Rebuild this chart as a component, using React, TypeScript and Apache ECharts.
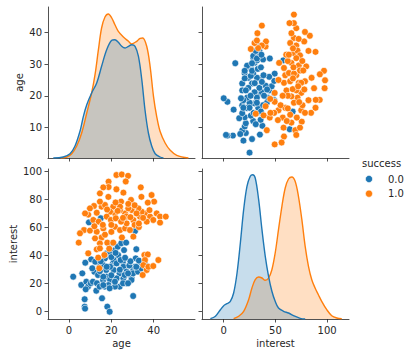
import React, { useEffect, useRef } from "react";
import * as echarts from "echarts";

// ---- data ----
const hueLevels = ["0.0", "1.0"];
const ageYTicks = [10, 20, 30, 40];
const ageXTicks = [0, 20, 40];
const interestXTicks = [0, 50, 100];
const interestYTicks = [0, 20, 40, 60, 80, 100];

// [age, interest] for success = 0.0
const fail: [number, number][] = [
  [2.0, 25.0], [6.3, 27.4], [5.8, 19.1], [7.4, 8.9], [7.4, 3.6], [7.6, 2.2], [7.7, 35.0], [8.2, 21.4],
  [9.0, 17.9], [7.9, 16.0], [10.3, 20.3], [10.5, 37.4], [11.3, 21.4], [12.4, 35.7], [12.0, 28.5], [13.2, 20.3],
  [12.9, 15.0], [14.5, 17.9], [14.5, 32.1], [13.7, 26.2], [15.6, 9.6], [16.1, 33.4], [16.1, 22.6], [16.9, 17.9],
  [17.6, 29.8], [18.1, 3.6], [19.2, 0.0], [17.8, 41.7], [17.0, 38.1], [19.4, 42.9], [18.6, 48.8], [20.8, 48.9],
  [21.7, 44.0], [23.0, 46.4], [24.7, 48.9], [27.0, 49.3], [23.2, 40.5], [20.8, 34.6], [25.5, 35.7], [21.1, 36.9],
  [22.5, 34.5], [24.4, 36.9], [25.7, 32.1], [27.2, 28.6], [23.9, 27.4], [21.1, 29.8], [17.8, 25.0], [16.2, 25.0],
  [19.4, 22.6], [22.5, 23.8], [25.7, 23.8], [28.8, 26.2], [30.4, 29.8], [31.2, 32.1], [32.0, 28.6], [33.5, 31.0],
  [34.3, 34.5], [31.5, 38.1], [31.8, 44.6], [31.2, 57.6], [29.6, 23.8], [27.2, 20.2], [23.9, 17.9], [21.7, 17.9],
  [18.6, 19.0], [16.2, 19.0], [21.7, 21.4], [29.5, 22.6], [25.5, 20.3], [27.9, 20.3], [19.2, 16.7], [30.3, 11.2],
  [9.4, 63.8], [26.3, 26.2], [30.3, 27.4], [32.6, 28.6], [34.2, 31.0], [35.8, 34.6], [31.8, 32.1], [27.9, 27.4],
  [19.4, 32.1], [17.8, 32.1], [14.6, 29.0], [20.0, 39.0], [22.0, 42.0], [26.0, 44.0], [28.5, 33.0], [29.0, 36.0],
  [33.0, 36.5], [15.0, 36.0], [11.0, 31.0], [24.0, 30.0], [26.5, 38.5], [20.0, 26.0], [15.0, 66.7],
];

// [age, interest] for success = 1.0
const success: [number, number][] = [
  [22.4, 97.6], [24.9, 98.0], [27.9, 97.0], [26.8, 93.0], [18.7, 92.9], [18.7, 89.0], [16.2, 88.8], [14.6, 84.5],
  [18.6, 82.0], [22.4, 87.4], [25.7, 85.0], [33.9, 88.8], [34.2, 82.0], [39.0, 83.3], [40.2, 78.6], [37.2, 77.9],
  [29.3, 79.8], [24.6, 78.6], [20.9, 75.0], [15.4, 75.0], [11.8, 75.5], [13.1, 70.7], [9.1, 69.3], [11.5, 65.5],
  [14.0, 64.3], [7.1, 58.3], [5.2, 56.0], [4.6, 49.3], [9.9, 57.9], [13.1, 57.1], [16.2, 59.5], [15.4, 53.0],
  [12.3, 52.4], [14.6, 48.8], [18.1, 49.3], [20.9, 49.3], [13.1, 44.5], [14.6, 45.2], [16.7, 40.5], [9.1, 41.7],
  [13.8, 38.6], [14.3, 31.0], [21.7, 60.7], [24.1, 58.3], [26.5, 59.5], [28.8, 58.3], [30.4, 53.6], [27.2, 63.1],
  [30.4, 65.5], [33.5, 67.9], [35.9, 70.2], [38.3, 67.9], [41.4, 70.2], [43.0, 67.9], [45.7, 67.9], [43.0, 63.6],
  [39.8, 65.5], [36.7, 64.3], [34.3, 71.4], [32.8, 73.8], [29.6, 72.6], [26.5, 70.2], [24.1, 72.6], [21.7, 70.2],
  [19.4, 71.4], [17.8, 67.9], [19.8, 65.5], [22.1, 66.7], [24.6, 64.3], [17.0, 76.2], [24.1, 75.0], [28.0, 73.8],
  [31.9, 70.2], [9.9, 73.8], [7.6, 70.2], [14.6, 78.6], [35.6, 40.5], [37.2, 40.9], [35.9, 36.9], [35.1, 33.3],
  [36.7, 29.8], [34.8, 26.2], [37.5, 32.1], [39.8, 32.6], [42.2, 36.9], [23.0, 72.0], [20.0, 62.0], [17.0, 55.0],
  [27.0, 68.0], [31.0, 62.0], [33.0, 60.5], [29.0, 67.5], [25.5, 67.0], [18.0, 73.0], [22.0, 78.0], [16.0, 62.0],
  [12.0, 61.0], [35.0, 67.0], [38.0, 72.5], [20.0, 57.0], [28.0, 77.0], [31.0, 76.0], [25.0, 53.0], [33.0, 63.0],
  [19.0, 45.0],
];

// KDE curves (relative density)
const kdeAgeFail: [number, number][] = [
  [-7.4, 0], [-2.7, 1], [0.5, 4.3], [2.8, 11.7], [5.2, 26.7], [6.8, 41.7], [8.4, 53.3], [10.7, 65],
  [13.1, 75], [15.4, 91.7], [17.8, 108.3], [20.2, 117.7], [21.7, 118.3], [23.3, 115.7], [24.9, 111.7],
  [26.5, 110], [28.1, 111.7], [29.6, 113.3], [31.2, 111.7], [32.8, 101.7], [34.4, 78], [35.9, 48],
  [37.5, 25], [39.1, 11.7], [40.7, 4.3], [43.0, 1], [44.6, 0],
];
const kdeAgeSuccess: [number, number][] = [
  [-4.0, 0], [-1.1, 1], [1.3, 4.3], [3.6, 11.7], [6.0, 25], [8.4, 45], [10.7, 65], [12.3, 83.3],
  [13.9, 108.3], [15.4, 130], [17.0, 141], [18.6, 144], [20.2, 140], [21.7, 133.3], [23.3, 126.7],
  [25.7, 121], [28.1, 116.7], [29.6, 114], [32.0, 116.7], [33.6, 119.7], [34.8, 120], [36.7, 111.7],
  [38.3, 91.7], [39.9, 61.7], [41.4, 41.7], [43.0, 26.7], [45.4, 15], [47.8, 7.7], [50.9, 2.7], [56.4, 0],
];
const kdeInterestFail: [number, number][] = [
  [-12.9, 0.3], [-8.0, 2.7], [-3.2, 9.3], [0, 13.3], [3.2, 15.3], [6.4, 17.7], [9.6, 26], [12.9, 46],
  [16.1, 76], [19.3, 109.3], [22.5, 132.7], [25.7, 142.7], [28.0, 144.3], [30.5, 141], [33.8, 119.3],
  [37.0, 89.3], [40.2, 62.7], [43.4, 42.7], [46.6, 27.7], [49.8, 17.7], [53.0, 11], [57.9, 7.7],
  [62.7, 6], [67.5, 3.3], [74.0, 0.7], [78.8, 0],
];
const kdeInterestSuccess: [number, number][] = [
  [9.6, 0.3], [14.5, 2.7], [19.3, 7.7], [24.1, 19.3], [27.3, 31], [30.5, 39.3], [33.8, 42], [37.0, 41],
  [40.2, 38.7], [43.4, 41], [46.6, 49.3], [49.8, 66], [53.0, 89.3], [56.3, 112.7], [59.5, 131],
  [62.7, 140], [65.9, 142], [69.1, 137.7], [72.3, 122.7], [75.6, 99.3], [78.8, 72.7], [82.0, 52.7],
  [85.2, 39.3], [88.4, 31], [91.6, 24.3], [94.8, 17.7], [99.7, 9.3], [104.5, 3.3], [109.4, 1], [114.2, 0.3],
];

// ---- styles ----
const FONT = "DejaVu Sans";
const TXT = "#262626";
const AX = "#262626";
const BLUE = "#1f77b4";
const ORANGE = "#ff7f0e";
const COLORS = [BLUE, ORANGE];

function valueAxis(gridIndex: number, min: number, max: number, ticks: number[], labels: boolean, name?: string, nameGap?: number) {
  return {
    type: "value",
    gridIndex,
    min,
    max,
    name: name || "",
    nameLocation: "middle",
    nameGap: nameGap || 0,
    nameTextStyle: { fontFamily: FONT, fontSize: 10, color: TXT },
    axisLine: { show: true, onZero: false, lineStyle: { color: AX, width: 0.8 } },
    axisTick: { show: true, length: 3.5, customValues: ticks, lineStyle: { color: AX, width: 0.8 } },
    axisLabel: { show: labels, customValues: ticks, margin: 6, color: TXT, fontSize: 10, fontFamily: FONT },
    splitLine: { show: false },
  };
}

function hiddenAxis(gridIndex: number, max: number) {
  return { type: "value", gridIndex, min: 0, max, show: false, position: "right", splitLine: { show: false } };
}

function kde(name: string, color: string, data: [number, number][], xAxisIndex: number, yAxisIndex: number) {
  return {
    type: "line",
    name,
    xAxisIndex,
    yAxisIndex,
    data,
    smooth: 0.35,
    symbol: "none",
    lineStyle: { color, width: 1.4 },
    areaStyle: { color, opacity: 0.25 },
    silent: true,
  };
}

function scatter(name: string, color: string, data: number[][], xAxisIndex: number, yAxisIndex: number) {
  return {
    type: "scatter",
    name,
    xAxisIndex,
    yAxisIndex,
    data,
    symbolSize: 6.8,
    itemStyle: { color, borderColor: "#ffffff", borderWidth: 0.6, opacity: 1 },
    silent: true,
  };
}

const AGE_MIN = 0.3, AGE_MAX = 48.1;
const AGEX_MIN = -9.9, AGEX_MAX = 59.5;
const INTX_MIN = -21, INTX_MAX = 121.2;
const INTY_MIN = -5.2, INTY_MAX = 101.9;

export default function App() {
  const ref = useRef<HTMLDivElement>(null);
  useEffect(() => {
    if (!ref.current) return;
    const chart = echarts.init(ref.current, null, { renderer: "svg" });
    const swap = (d: [number, number][]) => d.map(([a, i]) => [i, a]);
    const legendItems: any[] = [
      { type: "text", x: 362, y: 163, style: { text: "success", fontSize: 10, fontFamily: FONT, fill: TXT, align: "left", verticalAlign: "middle" } },
    ];
    hueLevels.forEach((lvl, k) => {
      const cy = 179 + k * 14.7;
      legendItems.push({ type: "circle", shape: { cx: 369, cy, r: 3.6 }, style: { fill: COLORS[k], stroke: "#fff", lineWidth: 0.6 } });
      legendItems.push({ type: "text", x: 388, y: cy, style: { text: lvl, fontSize: 10, fontFamily: FONT, fill: TXT, align: "left", verticalAlign: "middle" } });
    });
    chart.setOption({
      animation: false,
      backgroundColor: "#ffffff",
      textStyle: { fontFamily: FONT },
      grid: [
        { left: 48, top: 7, width: 147, height: 151 },
        { left: 202, top: 7, width: 147, height: 151 },
        { left: 48, top: 169, width: 147, height: 150 },
        { left: 202, top: 169, width: 147, height: 150 },
      ],
      xAxis: [
        valueAxis(0, AGEX_MIN, AGEX_MAX, ageXTicks, false),
        valueAxis(1, INTX_MIN, INTX_MAX, interestXTicks, false),
        valueAxis(2, AGEX_MIN, AGEX_MAX, ageXTicks, true, "age", 19),
        valueAxis(3, INTX_MIN, INTX_MAX, interestXTicks, true, "interest", 19),
      ],
      yAxis: [
        valueAxis(0, AGE_MIN, AGE_MAX, ageYTicks, true, "age", 24),
        hiddenAxis(0, 151),
        valueAxis(1, AGE_MIN, AGE_MAX, ageYTicks, false),
        valueAxis(2, INTY_MIN, INTY_MAX, interestYTicks, true, "interest", 30),
        valueAxis(3, INTY_MIN, INTY_MAX, interestYTicks, false),
        hiddenAxis(3, 150),
      ],
      series: [
        kde("1.0", ORANGE, kdeAgeSuccess, 0, 1),
        kde("0.0", BLUE, kdeAgeFail, 0, 1),
        scatter("0.0", BLUE, swap(fail), 1, 2),
        scatter("1.0", ORANGE, swap(success), 1, 2),
        scatter("0.0", BLUE, fail, 2, 3),
        scatter("1.0", ORANGE, success, 2, 3),
        kde("1.0", ORANGE, kdeInterestSuccess, 3, 5),
        kde("0.0", BLUE, kdeInterestFail, 3, 5),
      ],
      graphic: legendItems,
    });
    return () => chart.dispose();
  }, []);
  return <div ref={ref} style={{ position: "fixed", left: 0, top: 0, width: 412, height: 357 }} />;
}
